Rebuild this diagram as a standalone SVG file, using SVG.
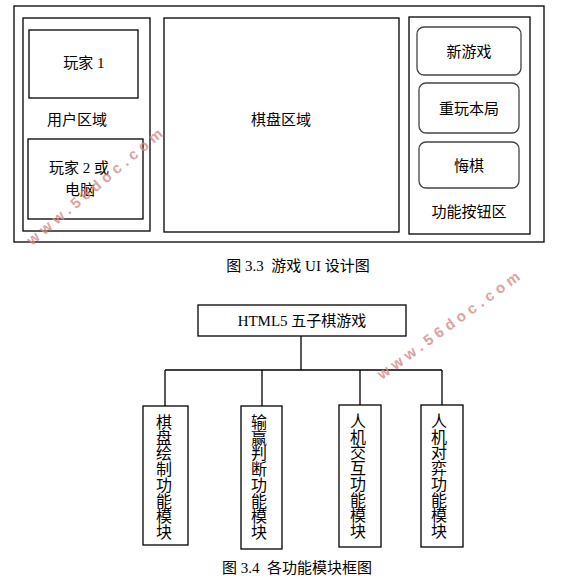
<svg xmlns="http://www.w3.org/2000/svg" width="584" height="586" viewBox="0 0 584 586">
<style>
.box{fill:#fff;stroke:#000;stroke-width:1.3}
.btn{fill:#fff;stroke:#444;stroke-width:1.3}
.t{font-family:"Liberation Serif","Noto Sans CJK SC",serif;font-size:15px;fill:#000;text-anchor:middle}
.cap{white-space:pre}
.v{font-family:"Liberation Serif","Noto Sans CJK SC",serif;font-size:16px;fill:#000;text-anchor:middle}
.ln{stroke:#000;stroke-width:1.3;fill:none}
.wm{font-family:"Liberation Sans",sans-serif;font-weight:bold;font-size:15px;fill:#d88a8a;opacity:0.8}
</style>
<rect width="584" height="586" fill="#fff"/>
<g id="ui-frame"><rect class="box" x="14" y="6" width="530" height="236"/></g>
<g id="user-area">
<rect class="box" x="23" y="18" width="127" height="213"/>
<text class="t" x="77" y="125">用户区域</text>
</g>
<g id="player1"><rect class="box" x="29" y="30" width="109" height="68"/><text class="t" x="84" y="68">玩家 1</text></g>
<g id="player2"><rect class="box" x="28" y="139" width="115" height="80"/><text class="t" x="79" y="173">玩家 2 或</text><text class="t" x="80" y="195">电脑</text></g>
<g id="board"><rect class="box" x="164" y="18" width="235" height="214"/><text class="t" x="281" y="125">棋盘区域</text></g>
<g id="func-area"><rect class="box" x="409" y="17" width="121" height="217"/><text class="t" x="469" y="217">功能按钮区</text></g>
<g id="btn-new"><rect class="btn" x="417" y="27" width="104" height="48" rx="7"/><text class="t" x="469" y="57">新游戏</text></g>
<g id="btn-replay"><rect class="btn" x="419" y="83" width="100" height="50" rx="7"/><text class="t" x="469" y="114">重玩本局</text></g>
<g id="btn-undo"><rect class="btn" x="419" y="142" width="100" height="46" rx="7"/><text class="t" x="469" y="171">悔棋</text></g>
<g id="caption1"><text class="t cap" x="298" y="271">图 3.3  游戏 UI 设计图</text></g>

<g id="connectors">
<path class="ln" d="M301 336V370M165 370H442M165 370V406M262 370V406M360 370V405M442 370V405"/>
</g>
<g id="root"><rect class="box" x="198" y="305" width="208" height="31"/><text class="t" x="302" y="326">HTML5 五子棋游戏</text></g>
<g id="m1"><rect class="box" x="143" y="406" width="45" height="139"/>
<text class="v" x="164"><tspan x="164" y="428">棋</tspan><tspan x="164" dy="15.7">盘</tspan><tspan x="164" dy="15.7">绘</tspan><tspan x="164" dy="15.7">制</tspan><tspan x="164" dy="15.7">功</tspan><tspan x="164" dy="15.7">能</tspan><tspan x="164" dy="15.7">模</tspan><tspan x="164" dy="15.7">块</tspan></text></g>
<g id="m2"><rect class="box" x="241" y="406" width="41" height="143"/>
<text class="v" x="259"><tspan x="259" y="428">输</tspan><tspan x="259" dy="15.7">赢</tspan><tspan x="259" dy="15.7">判</tspan><tspan x="259" dy="15.7">断</tspan><tspan x="259" dy="15.7">功</tspan><tspan x="259" dy="15.7">能</tspan><tspan x="259" dy="15.7">模</tspan><tspan x="259" dy="15.7">块</tspan></text></g>
<g id="m3"><rect class="box" x="339" y="405" width="42" height="142"/>
<text class="v" x="358"><tspan x="358" y="427">人</tspan><tspan x="358" dy="15.7">机</tspan><tspan x="358" dy="15.7">交</tspan><tspan x="358" dy="15.7">互</tspan><tspan x="358" dy="15.7">功</tspan><tspan x="358" dy="15.7">能</tspan><tspan x="358" dy="15.7">模</tspan><tspan x="358" dy="15.7">块</tspan></text></g>
<g id="m4"><rect class="box" x="421" y="405" width="42" height="142"/>
<text class="v" x="439"><tspan x="439" y="427">人</tspan><tspan x="439" dy="15.7">机</tspan><tspan x="439" dy="15.7">对</tspan><tspan x="439" dy="15.7">弈</tspan><tspan x="439" dy="15.7">功</tspan><tspan x="439" dy="15.7">能</tspan><tspan x="439" dy="15.7">模</tspan><tspan x="439" dy="15.7">块</tspan></text></g>
<g id="caption2"><text class="t cap" x="297" y="573">图 3.4  各功能模块框图</text></g>

<g id="watermarks">
<text class="wm" transform="translate(32,246) rotate(-40)" textLength="172" lengthAdjust="spacing">www.56doc.com</text>
<text class="wm" transform="translate(382,380) rotate(-36)" textLength="172" lengthAdjust="spacing">www.56doc.com</text>
</g>
</svg>
